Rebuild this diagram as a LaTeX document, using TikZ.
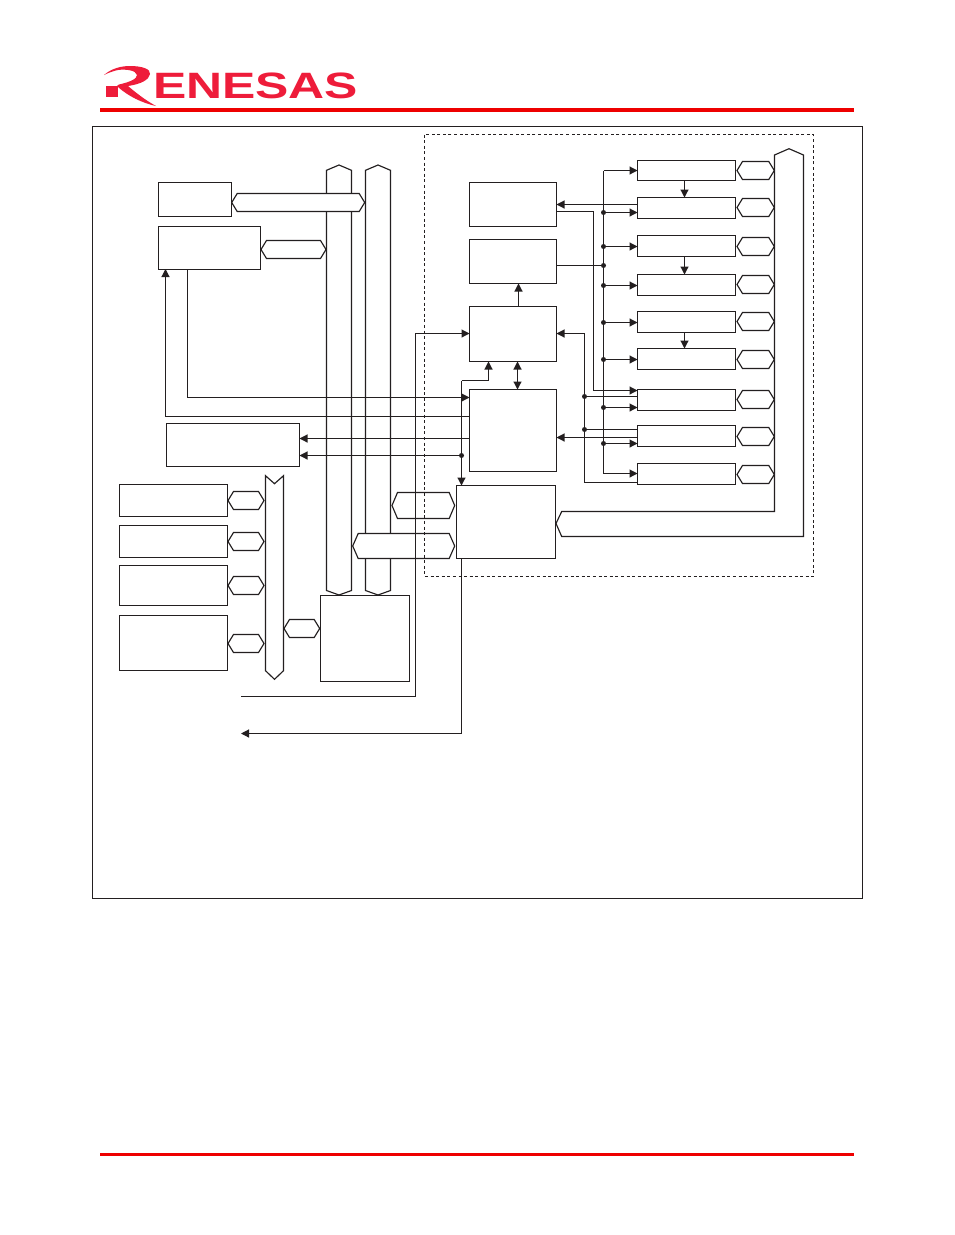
\documentclass[tikz,border=0pt]{standalone}
\usepackage{fontspec}
\usepackage{graphicx}
\setmainfont{Liberation Sans}
\usetikzlibrary{arrows.meta}
\definecolor{ink}{HTML}{231F20}
\definecolor{logored}{HTML}{EE1C3A}
\definecolor{rulered}{HTML}{EE0000}
\tikzset{
  boxn/.style={draw=ink,fill=white,line width=1.15pt,inner sep=0pt,outer sep=0pt,anchor=north west},
  shapeline/.style={draw=ink,fill=white,line width=1.15pt,line join=miter},
  conn/.style={draw=ink,line width=1.15pt},
  arr/.style={conn,-{Triangle[length=8pt,width=8pt]}},
  dbl/.style={conn,{Triangle[length=8pt,width=8pt]}-{Triangle[length=8pt,width=8pt]}},
  dotn/.style={circle,fill=ink,inner sep=0pt,minimum size=5pt},
  dashbox/.style={draw=ink,line width=1pt,dash pattern=on 3pt off 2.6pt},
}
% horizontal double-pointed bus: x-left, x-right, y-top, y-bottom
\newcommand{\hexbus}[4]{\path[shapeline] (#1,{(#3+#4)/2}) -- ({#1+5.5},#3) -- ({#2-5.5},#3) -- (#2,{(#3+#4)/2}) -- ({#2-5.5},#4) -- ({#1+5.5},#4) -- cycle;}
% vertical bus with points on both ends: x-left, x-right, tip-top, tip-bottom
\newcommand{\vbus}[4]{\path[shapeline] ({(#1+#2)/2},#3) -- (#2,{#3+5.3}) -- (#2,{#4-4.5}) -- ({(#1+#2)/2},#4) -- (#1,{#4-4.5}) -- (#1,{#3+5.3}) -- cycle;}
\begin{document}
\begin{tikzpicture}[x=1pt,y=-1pt]
\useasboundingbox (0,0) rectangle (954,1235);
\fill[white] (0,0) rectangle (954,1235);

% header and footer
\fill[rulered] (100,108) rectangle (854,112);
\fill[rulered] (100,1153) rectangle (854,1156);
\fill[logored] (106,86) rectangle (118,96.7);
\fill[logored] (104,75) .. controls (112,68) and (122,66) .. (130,66)
  .. controls (142,66) and (151,69) .. (150,74)
  .. controls (149,80) and (141,84) .. (128,86)
  .. controls (135,92) and (145,100) .. (156,106)
  .. controls (142,103) and (128,96) .. (118,87)
  .. controls (117,86) and (117,85) .. (119,84.5)
  .. controls (130,82) and (137,79) .. (137,75)
  .. controls (136,70) and (125,69) .. (118,70)
  .. controls (113,71) and (108,73) .. (104,75) -- cycle;
\node[anchor=south west,inner sep=0pt,text=logored] (logotext) at (153,99)
  {\resizebox{205pt}{25.6pt}{\bfseries ENESAS}};

% frame
\draw[ink,line width=1.15pt] (92.5,126.5) rectangle (862.5,898.5);

% long buses
\vbus{326.5}{351.5}{165}{595}
\vbus{365.5}{390.5}{165}{595}
\path[shapeline] (265.5,475.7) -- (274.5,483.7) -- (283.5,475.7) -- (283.5,670.7) -- (274.5,679.3) -- (265.5,670.7) -- cycle;
\path[shapeline] (789,148.7) -- (803.5,155) -- (803.5,536.5) -- (561.7,536.5) -- (556,523.5) -- (561.7,511.5) -- (774.5,511.5) -- (774.5,155) -- cycle;

% blocks
\node[boxn,minimum width=73pt,minimum height=34pt] (A) at (158.5,182.5) {};
\node[boxn,minimum width=102pt,minimum height=43pt] (B) at (158.5,226.5) {};
\node[boxn,minimum width=133pt,minimum height=43pt] (C) at (166.5,423.5) {};
\node[boxn,minimum width=108pt,minimum height=32pt] (D1) at (119.5,484.5) {};
\node[boxn,minimum width=108pt,minimum height=32pt] (D2) at (119.5,525.5) {};
\node[boxn,minimum width=108pt,minimum height=40pt] (D3) at (119.5,565.5) {};
\node[boxn,minimum width=108pt,minimum height=55pt] (D4) at (119.5,615.5) {};
\node[boxn,minimum width=89pt,minimum height=86pt] (E) at (320.5,595.5) {};
\node[boxn,minimum width=87pt,minimum height=44pt] (F) at (469.5,182.5) {};
\node[boxn,minimum width=87pt,minimum height=44pt] (G) at (469.5,239.5) {};
\node[boxn,minimum width=87pt,minimum height=55pt] (H) at (469.5,306.5) {};
\node[boxn,minimum width=87pt,minimum height=82pt] (I) at (469.5,389.5) {};
\node[boxn,minimum width=99pt,minimum height=73pt] (J) at (456.5,485.5) {};
\node[boxn,minimum width=98pt,minimum height=20pt] (T1) at (637.5,160.5) {};
\node[boxn,minimum width=98pt,minimum height=21pt] (T2) at (637.5,197.5) {};
\node[boxn,minimum width=98pt,minimum height=21pt] (T3) at (637.5,235.5) {};
\node[boxn,minimum width=98pt,minimum height=21pt] (T4) at (637.5,274.5) {};
\node[boxn,minimum width=98pt,minimum height=21pt] (T5) at (637.5,311.5) {};
\node[boxn,minimum width=98pt,minimum height=21pt] (T6) at (637.5,348.5) {};
\node[boxn,minimum width=98pt,minimum height=21pt] (T7) at (637.5,389.5) {};
\node[boxn,minimum width=98pt,minimum height=21pt] (T8) at (637.5,425.5) {};
\node[boxn,minimum width=98pt,minimum height=21pt] (T9) at (637.5,463.5) {};

% short bus links
\hexbus{231.7}{364.7}{193.5}{211.5}
\hexbus{261}{326}{240.5}{258.5}
\hexbus{228}{264}{491.5}{509.5}
\hexbus{228}{264}{532.5}{550.5}
\hexbus{228}{264}{576.5}{594.5}
\hexbus{228}{264}{634.5}{652.5}
\hexbus{284}{319.7}{619.5}{637.5}
\hexbus{392}{454.7}{492.5}{518.5}
\hexbus{352.7}{454.7}{533.5}{558.5}
\foreach \c in {170.5,207.5,246.5,284.5,321.5,359.5,399.5,436.5,474.5}
  {\hexbus{737}{774.3}{\c-9}{\c+9}}

% dashed outline
\path[dashbox] (424.5,134.5) rectangle (813.5,576.5);

% rails
\coordinate (railA) at (603.5,0);
\coordinate (railB) at (584.5,0);
\coordinate (railC) at (593.5,0);
\coordinate (railJ) at (461.5,0);
\coordinate (endL) at (241,696.5);
\coordinate (endM) at (241,733.5);

% left-hand connectors
\draw[arr] (187.5,269) |- (I.west |- 0,397.5);
\draw[arr] (I.west |- 0,416.5) -| (165.5,269);
\draw[arr] (I.west |- 0,438.5) -- (C.east |- 0,438.5);
\draw[arr] (railJ |- 0,455.5) -- (C.east |- 0,455.5);
\node[dotn] (d0) at (461.5,455.5) {};
\draw[arr] (endL) -| (415.5,333.5) -- (H.west |- 0,333.5);
\draw[arr] (461.5,558.5) |- (endM);
\draw[arr] (488.5,380.5) -- (488.5,361.5);
\draw[conn] (488.5,380.5) -- (461.5,380.5);
\draw[arr] (461.5,380.5) -- (J.north -| 461.5,0);

% centre connectors
\draw[arr] (H.north -| 518.5,0) -- (G.south -| 518.5,0);
\draw[dbl] (H.south -| 517.5,0) -- (I.north -| 517.5,0);

% timer links
\draw[arr] (T1.south -| 684.5,0) -- (T2.north -| 684.5,0);
\draw[arr] (T3.south -| 684.5,0) -- (T4.north -| 684.5,0);
\draw[arr] (T5.south -| 684.5,0) -- (T6.north -| 684.5,0);

% right-hand rails
\draw[arr] (T2.west |- 0,204.5) -- (F.east |- 0,204.5);
\draw[arr] (F.east |- 0,211.5) -| (593.5,390.5) -- (T7.west |- 0,390.5);
\draw[arr] (T8.west |- 0,437.5) -- (I.east |- 0,437.5);
\draw[arr] (T9.west |- 0,482.5) -| (584.5,333.5) -- (H.east |- 0,333.5);
\draw[conn] (railB |- 0,396.5) -- (T7.west |- 0,396.5);
\draw[conn] (railB |- 0,429.5) -- (T8.west |- 0,429.5);
\node[dotn] (d1) at (584.5,396.5) {};
\node[dotn] (d2) at (584.5,429.5) {};
\draw[arr] (603.5,473.5) -- (T9.west |- 0,473.5);
\draw[conn] (603.5,473.5) -- (603.5,170.5);
\draw[arr] (603.5,170.5) -- (T1.west |- 0,170.5);
\foreach \nm/\yy in {T2/212.5,T3/246.5,T4/285.5,T5/322.5,T6/359.5,T7/407.5,T8/443.5}{
  \draw[arr] (railA |- 0,\yy) -- (\nm.west |- 0,\yy);
  \node[dotn] at (603.5,\yy) {};
}
\draw[conn] (G.east |- 0,265.5) -- (railA |- 0,265.5);
\node[dotn] (d3) at (603.5,265.5) {};
\end{tikzpicture}
\end{document}
